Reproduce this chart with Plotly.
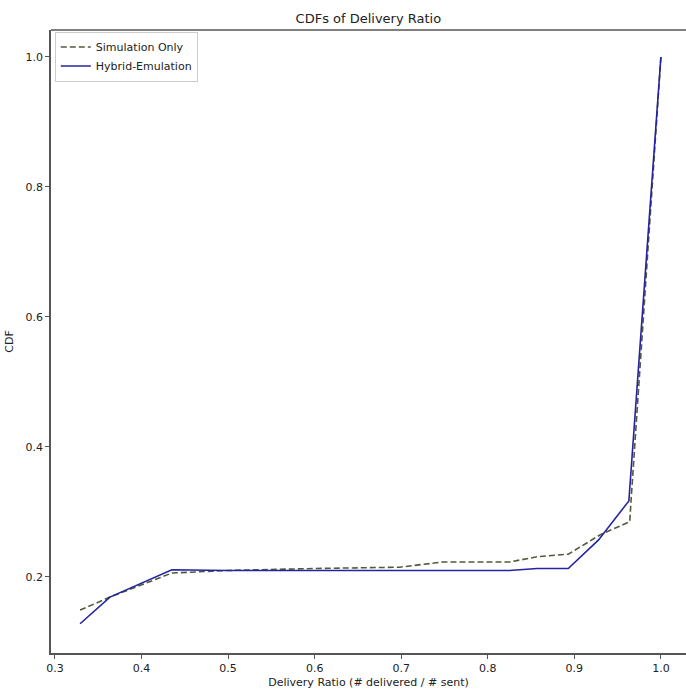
import plotly.graph_objects as go

# Data
sim_x = [0.329, 0.3635, 0.435, 0.50, 0.60, 0.698, 0.748, 0.825, 0.857, 0.893, 0.930, 0.964, 0.9655, 1.0]
sim_y = [0.149, 0.169, 0.206, 0.210, 0.213, 0.215, 0.223, 0.223, 0.231, 0.235, 0.265, 0.285, 0.317, 1.0]

hyb_x = [0.329, 0.3635, 0.435, 0.50, 0.60, 0.700, 0.825, 0.857, 0.893, 0.928, 0.963, 1.0]
hyb_y = [0.128, 0.169, 0.211, 0.210, 0.210, 0.210, 0.210, 0.213, 0.213, 0.257, 0.317, 1.0]

x_ticks = [0.3, 0.4, 0.5, 0.6, 0.7, 0.8, 0.9, 1.0]
x_tick_labels = ["0.3", "0.4", "0.5", "0.6", "0.7", "0.8", "0.9", "1.0"]
y_ticks = [0.2, 0.4, 0.6, 0.8, 1.0]
y_tick_labels = ["0.2", "0.4", "0.6", "0.8", "1.0"]

FONT = "DejaVu Sans, sans-serif"

fig = go.Figure()
fig.add_trace(go.Scatter(
    x=sim_x, y=sim_y, mode="lines", name="Simulation Only",
    line=dict(color="#505b3e", width=1.6, dash="6px,3px"),
))
fig.add_trace(go.Scatter(
    x=hyb_x, y=hyb_y, mode="lines", name="Hybrid-Emulation",
    line=dict(color="#2424a0", width=1.6),
))

# top spine only (matplotlib figure is cropped on the right)
fig.add_shape(type="line", xref="paper", yref="paper", x0=0, x1=1, y0=1, y1=1,
              line=dict(color="#555", width=1.5))

fig.update_layout(
    width=686, height=694,
    margin=dict(l=51, r=0, t=30, b=41),
    paper_bgcolor="white", plot_bgcolor="white",
    font=dict(family=FONT, size=11, color="#222"),
    title=dict(text="CDFs of Delivery Ratio", x=0.537, xanchor="center",
               y=0.974, yanchor="middle", font=dict(size=13, color="#222")),
    showlegend=True,
    legend=dict(x=0.006, y=0.9975, xanchor="left", yanchor="top",
                bgcolor="rgba(255,255,255,0.9)", bordercolor="#cccccc", borderwidth=1,
                font=dict(size=11), tracegroupgap=0, itemwidth=30),
    xaxis=dict(
        range=[0.2954, 1.029], tickmode="array", tickvals=x_ticks, ticktext=x_tick_labels,
        showgrid=False, zeroline=False, showline=True, linecolor="#555", linewidth=1.5,
        mirror=False, ticks="outside", ticklen=4, tickcolor="#555",
        title=dict(text="Delivery Ratio (# delivered / # sent)", standoff=4, font=dict(size=11)),
    ),
    yaxis=dict(
        range=[0.083, 1.0415], tickmode="array", tickvals=y_ticks, ticktext=y_tick_labels,
        showgrid=False, zeroline=False, showline=True, linecolor="#555", linewidth=1.5,
        ticks="outside", ticklen=4, tickcolor="#555",
        title=dict(text="CDF", standoff=10, font=dict(size=11)),
    ),
)

fig.write_html(
    "out.html",
    config={"displayModeBar": False},
    post_script="document.body.style.margin='0';document.body.style.overflow='hidden';",
)
